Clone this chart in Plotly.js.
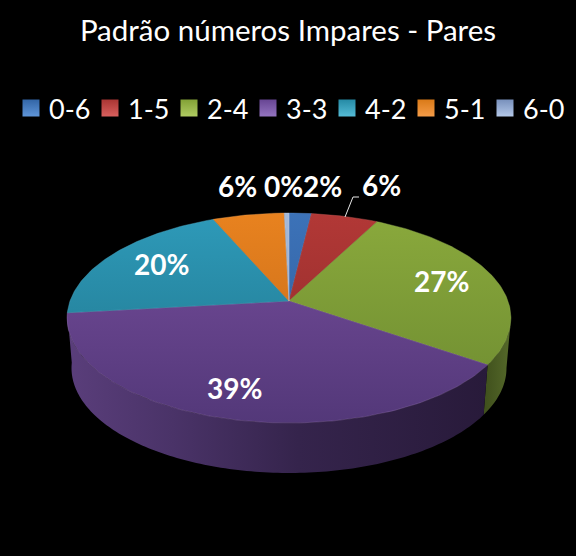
<!DOCTYPE html>
<html><head><meta charset="utf-8">
<script src="https://cdn.plot.ly/plotly-3.0.1.min.js"></script>
<style>html,body{margin:0;padding:0;background:#000}#c{width:576px;height:556px}</style>
</head><body><div id="c"></div>
<script>
// ---- data ----
const titleText = 'Padrão números Impares - Pares';
const categories = ['0-6','1-5','2-4','3-3','4-2','5-1','6-0'];
const percents = [1.9, 5.7, 27.0, 38.6, 20.3, 6.1, 0.4];

// ---- styles ----
const faceTop = ['#3c72b8','#b23836','#8aa93c','#764d9c','#2e9ab9','#e8821f','#a5b9d8'];
const faceBot = ['#2f5c98','#8a2a29','#6c8a30','#533879','#1f7389','#c06818','#8ea3c6'];
const wallL   = ['#2c4f80','#742423','#3f4f1c','#5a3e7b','#1a6073','#a35a15','#7285a4'];
const wallR   = ['#2c4f80','#742423','#55692a','#281a3a','#1a6073','#a35a15','#7285a4'];
const rim     = ['#5b8bc9','#c05a58','#98b356','#8f6eae','#50aac4','#ee9f52','#c4d2e8'];
const swatch  = ['#3265a6','#a93533','#82a136','#674593','#258aa5','#da7a18','#7890bc'];
const swatchHi= ['#5f95d8','#d9605e','#b0cc62','#9474c0','#55bcd6','#f59c48','#b4c8e8'];

// projection of the pie disc (circle seen in perspective)
const cx = 289, cy = 301, bx = 219, a = 102.2, k = 0.162, depth = 50, shrink = 0.98;
const proj = (deg, lower) => {
  const t = deg * Math.PI / 180, u = Math.sin(t), v = Math.cos(t), d = 1 + k * v;
  const X = bx * u / d, Y = -a * v / d;
  return lower ? [cx + X * shrink, cy + Y + depth] : [cx + X, cy + Y];
};
const arc = (from, to, lower) => {
  const n = Math.max(2, Math.ceil(Math.abs(to - from))), out = [];
  for (let i = 0; i <= n; i++) out.push(proj(from + (to - from) * i / n, lower));
  return out;
};
const total = percents.reduce((s, p) => s + p, 0);
let run = 0;
const spans = percents.map(p => { const s = run / total * 360; run += p; return [s, run / total * 360]; });

const traces = [];
// side wall (only the front half of the disc is visible)
const frontFrom = 99.3, frontTo = 263.5;
spans.forEach(([s, e], i) => {
  const f = Math.max(s, frontFrom), t = Math.min(e, frontTo);
  if (t <= f) return;
  const up = arc(f, t, false), low = arc(t, f, true), pts = up.concat(low);
  pts.push(up[0]);
  const xs = pts.map(p => p[0]);
  traces.push({type:'scatter', mode:'none', x:xs, y:pts.map(p => p[1]), fill:'toself',
    hoverinfo:'skip', showlegend:false,
    fillgradient:{type:'horizontal', start:Math.min(...xs), stop:Math.max(...xs),
      colorscale: i === 3
        ? [[0,wallL[i]],[0.25,'#4a3368'],[0.55,'#35244c'],[1,wallR[i]]]
        : [[0,wallL[i]],[1,wallR[i]]]}});
});
// top faces
spans.forEach(([s, e], i) => {
  const pts = [[cx, cy]].concat(arc(s, e, false), [[cx, cy]]);
  traces.push({type:'scatter', mode:'lines', x:pts.map(p => p[0]), y:pts.map(p => p[1]), fill:'toself',
    hoverinfo:'skip', showlegend:false, line:{color:rim[i], width:0.4},
    fillgradient:{type:'vertical', start:213, stop:423,
      colorscale:[[0,faceTop[i]],[1,faceBot[i]]]}});
});
// legend row
const legX0 = 31, legTextX0 = 47, legStep = 79, legY = 108;
traces.push({type:'scatter', mode:'markers', x:categories.map((c, i) => legX0 + i * legStep),
  y:categories.map(() => legY), hoverinfo:'skip', showlegend:false,
  marker:{symbol:'square', size:17, color:swatch, line:{width:0},
    gradient:{type:'vertical', color:swatchHi}}});

const labelAt = [[322,186],[381,185],[441,281],[234,388],[161,264],[237,186],[283,186]];
const annotations = percents.map((p, i) => ({
  xref:'x', yref:'y', x:labelAt[i][0], y:labelAt[i][1], showarrow:false,
  text:Math.round(p) + '%', font:{family:'Lato, sans-serif', size:28, color:'#fff', weight:700}
})).concat(categories.map((c, i) => ({
  xref:'x', yref:'y', x:legTextX0 + i * legStep, y:legY, xanchor:'left', showarrow:false,
  text:c, font:{family:'Lato, sans-serif', size:27, color:'#fff'}
})));

const layout = {
  width:576, height:556, margin:{l:0,r:0,t:0,b:0},
  paper_bgcolor:'#000', plot_bgcolor:'#000', showlegend:false,
  title:{text:titleText, x:0.5, xanchor:'center', y:1-31/556, yanchor:'middle',
    font:{family:'Lato, sans-serif', size:29.5, color:'#fff'}},
  xaxis:{range:[0,576], visible:false, fixedrange:true},
  yaxis:{range:[556,0], visible:false, fixedrange:true},
  annotations,
  shapes:[{type:'path', xref:'x', yref:'y', path:'M345 217 L353 197 L359 197',
    line:{color:'#e8e8e8', width:1}}]
};
Plotly.newPlot('c', traces, layout, {displayModeBar:false, staticPlot:true});
</script></body></html>
